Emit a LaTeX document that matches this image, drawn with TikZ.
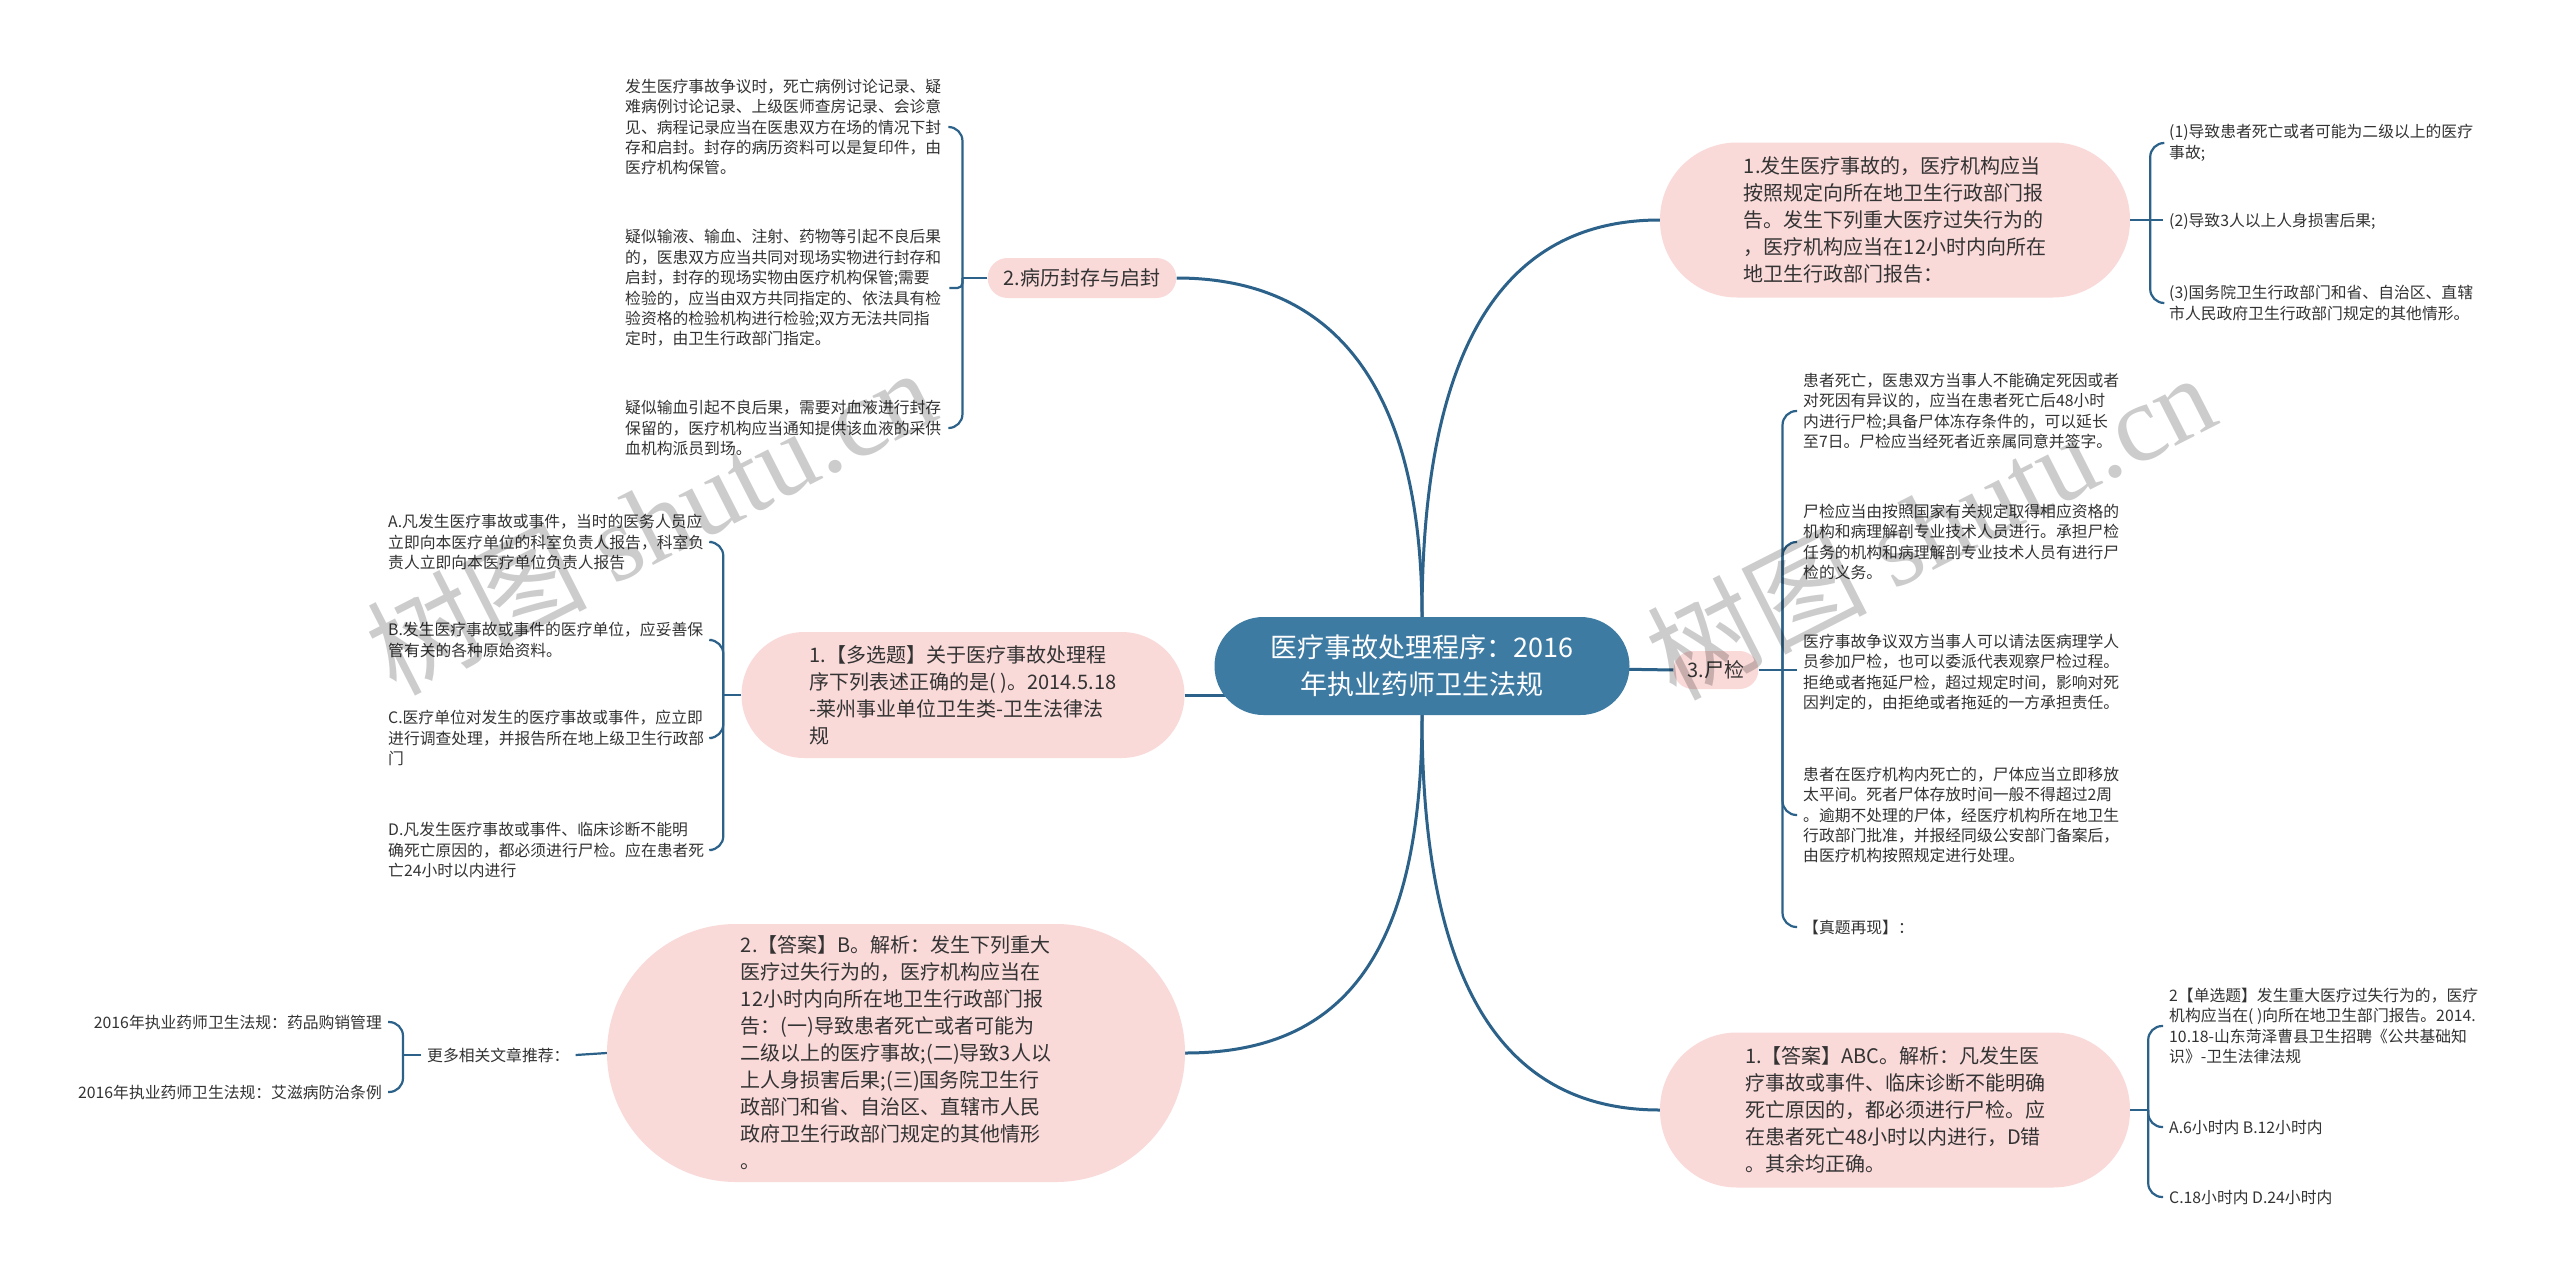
\documentclass[tikz,border=0pt]{standalone}
\usepackage{fontspec}
\setmainfont{Noto Sans CJK SC}
\newfontfamily\wmserif{Liberation Serif}
\usetikzlibrary{backgrounds}
\definecolor{rootblue}{RGB}{62,123,163}
\definecolor{linkblue}{RGB}{44,98,138}
\definecolor{topicpink}{RGB}{250,217,217}
\definecolor{inkgray}{RGB}{51,51,51}

\begin{document}
\begin{tikzpicture}[x=1pt,y=-1pt]
			\tikzstyle{root}=[fill=rootblue, text=white, align=center, minimum width=415pt, minimum height=98pt, rounded corners=49pt, font=\fontsize{27}{37}\selectfont]
			\tikzstyle{topic}=[fill=topicpink, text=inkgray, align=left, inner sep=0pt, font=\fontsize{20}{27}\selectfont]
			\tikzstyle{leaf}=[text=inkgray, align=left, inner xsep=6pt, inner ysep=0pt, font=\fontsize{15.8}{20.4}\selectfont]
			\tikzstyle{link}=[draw=linkblue, line width=3pt]
			\tikzstyle{brace}=[draw=linkblue, line width=2.2pt, rounded corners=14pt]

			\useasboundingbox (0,0) rectangle (2560,1282);

			\node (root) at (1422,666) [root] {医疗事故处理程序：2016\\年执业药师卫生法规};

			% right side
			\node (tr) at (1895,220) [topic, minimum width=470pt, minimum height=155pt, rounded corners=77pt] {1.发生医疗事故的，医疗机构应当\\按照规定向所在地卫生行政部门报\\告。发生下列重大医疗过失行为的\\，医疗机构应当在12小时内向所在\\地卫生行政部门报告：};
			\node (ins) at (1716,670) [topic, inner xsep=14pt, minimum height=38pt, rounded corners=19pt] {3.尸检};
			\node (br) at (1895,1110) [topic, minimum width=470pt, minimum height=155pt, rounded corners=77pt] {1.【答案】ABC。解析：凡发生医\\疗事故或事件、临床诊断不能明确\\死亡原因的，都必须进行尸检。应\\在患者死亡48小时以内进行，D错\\。其余均正确。};

			\node (tr1) at (2163,143) [leaf, anchor=west] {(1)导致患者死亡或者可能为二级以上的医疗\\事故;};
			\node (tr2) at (2163,221) [leaf, anchor=west] {(2)导致3人以上人身损害后果;};
			\node (tr3) at (2163,303) [leaf, anchor=west] {(3)国务院卫生行政部门和省、自治区、直辖\\市人民政府卫生行政部门规定的其他情形。};

			\node (ins1) at (1797,411) [leaf, anchor=west] {患者死亡，医患双方当事人不能确定死因或者\\对死因有异议的，应当在患者死亡后48小时\\内进行尸检;具备尸体冻存条件的，可以延长\\至7日。尸检应当经死者近亲属同意并签字。};
			\node (ins2) at (1797,542) [leaf, anchor=west] {尸检应当由按照国家有关规定取得相应资格的\\机构和病理解剖专业技术人员进行。承担尸检\\任务的机构和病理解剖专业技术人员有进行尸\\检的义务。};
			\node (ins3) at (1797,672) [leaf, anchor=west] {医疗事故争议双方当事人可以请法医病理学人\\员参加尸检，也可以委派代表观察尸检过程。\\拒绝或者拖延尸检，超过规定时间，影响对死\\因判定的，由拒绝或者拖延的一方承担责任。};
			\node (ins4) at (1797,815) [leaf, anchor=west] {患者在医疗机构内死亡的，尸体应当立即移放\\太平间。死者尸体存放时间一般不得超过2周\\。逾期不处理的尸体，经医疗机构所在地卫生\\行政部门批准，并报经同级公安部门备案后，\\由医疗机构按照规定进行处理。};
			\node (ins5) at (1797,927) [leaf, anchor=west] {【真题再现】：};

			\node (br1) at (2163,1026) [leaf, anchor=west] {2【单选题】发生重大医疗过失行为的，医疗\\机构应当在( )向所在地卫生部门报告。2014.\\10.18-山东菏泽曹县卫生招聘《公共基础知\\识》-卫生法律法规};
			\node (br2) at (2163,1127) [leaf, anchor=west] {A.6小时内 B.12小时内};
			\node (br3) at (2163,1197) [leaf, anchor=west] {C.18小时内 D.24小时内};

			% left side
			\node (l1) at (1082,278) [topic, inner xsep=16pt, minimum height=40pt, rounded corners=20pt] {2.病历封存与启封};
			\node (l2) at (963,695) [topic, minimum width=443pt, minimum height=126pt, rounded corners=63pt] {1.【多选题】关于医疗事故处理程\\序下列表述正确的是( )。2014.5.18\\-莱州事业单位卫生类-卫生法律法\\规};
			\node (l3) at (896,1053) [topic, minimum width=578pt, minimum height=258pt, rounded corners=129pt] {2.【答案】B。解析：发生下列重大\\医疗过失行为的，医疗机构应当在\\12小时内向所在地卫生行政部门报\\告：(一)导致患者死亡或者可能为\\二级以上的医疗事故;(二)导致3人以\\上人身损害后果;(三)国务院卫生行\\政部门和省、自治区、直辖市人民\\政府卫生行政部门规定的其他情形\\。};

			\node (c1) at (619,127) [leaf, anchor=west, text width=318pt] {发生医疗事故争议时，死亡病例讨论记录、疑\\难病例讨论记录、上级医师查房记录、会诊意\\见、病程记录应当在医患双方在场的情况下封\\存和启封。封存的病历资料可以是复印件，由\\医疗机构保管。};
			\node (c2) at (619,288) [leaf, anchor=west, text width=318pt] {疑似输液、输血、注射、药物等引起不良后果\\的，医患双方应当共同对现场实物进行封存和\\启封，封存的现场实物由医疗机构保管;需要\\检验的，应当由双方共同指定的、依法具有检\\验资格的检验机构进行检验;双方无法共同指\\定时，由卫生行政部门指定。};
			\node (c3) at (619,428) [leaf, anchor=west, text width=318pt] {疑似输血引起不良后果，需要对血液进行封存\\保留的，医疗机构应当通知提供该血液的采供\\血机构派员到场。};

			\node (d1) at (382,542) [leaf, anchor=west, text width=318pt] {A.凡发生医疗事故或事件，当时的医务人员应\\立即向本医疗单位的科室负责人报告，科室负\\责人立即向本医疗单位负责人报告};
			\node (d2) at (382,640) [leaf, anchor=west, text width=318pt] {B.发生医疗事故或事件的医疗单位，应妥善保\\管有关的各种原始资料。};
			\node (d3) at (382,738) [leaf, anchor=west, text width=318pt] {C.医疗单位对发生的医疗事故或事件，应立即\\进行调查处理，并报告所在地上级卫生行政部\\门};
			\node (d4) at (382,850) [leaf, anchor=west, text width=318pt] {D.凡发生医疗事故或事件、临床诊断不能明\\确死亡原因的，都必须进行尸检。应在患者死\\亡24小时以内进行};

			\node (e0) at (421,1055) [leaf, anchor=west] {更多相关文章推荐：};
			\node (f1) at (388,1022) [leaf, anchor=east, align=right] {2016年执业药师卫生法规：药品购销管理};
			\node (f2) at (388,1092) [leaf, anchor=east, align=right] {2016年执业药师卫生法规：艾滋病防治条例};

			\coordinate (trj) at ([xshift=20pt]tr.east);
			\coordinate (insj) at ([xshift=24pt]ins.east);
			\coordinate (brj) at ([xshift=18pt]br.east);
			\coordinate (l1j) at ([xshift=-25pt]l1.west);
			\coordinate (l2j) at ([xshift=-18pt]l2.west);
			\coordinate (e0j) at ([xshift=-18pt]e0.west);

			\begin{pgfonlayer}{background}
				\fill [white] (0,0) rectangle (2560,1282);
				\draw [link] (root.north) .. controls +(0,-280) and +(-150,0) .. (tr.west);
				\draw [link] (root.north) .. controls +(0,-240) and +(150,0) .. (l1.east);
				\draw [link] (root.south) .. controls +(0,250) and +(150,0) .. (l3.east);
				\draw [link] (root.south) .. controls +(0,280) and +(-150,0) .. (br.west);
				\draw [link] (root.center) -- (ins.west);
				\draw [link] (l2.east) -- (l2.east -| root.center);
			\end{pgfonlayer}

			\draw [brace] (tr.east) -- (trj);
			\draw [brace] (trj) |- (tr1.west);
			\draw [brace] (trj) -- (trj -| tr2.west);
			\draw [brace] (trj) |- (tr3.west);

			\draw [brace] (ins.east) -- (insj);
			\draw [brace] (insj) |- (ins1.west);
			\draw [brace] (insj) |- (ins2.west);
			\draw [brace] (insj) -- (insj -| ins3.west);
			\draw [brace] (insj) |- (ins4.west);
			\draw [brace] (insj) |- (ins5.west);

			\draw [brace] (br.east) -- (brj);
			\draw [brace] (brj) |- (br1.west);
			\draw [brace] (brj) |- (br2.west);
			\draw [brace] (brj) |- (br3.west);

			\draw [brace] (l1.west) -- (l1j);
			\draw [brace] (l1j) |- (c1.east);
			\draw [brace, rounded corners=5pt] (l1j) |- (c2.east);
			\draw [brace] (l1j) |- (c3.east);

			\draw [brace] (l2.west) -- (l2j);
			\draw [brace] (l2j) |- (d1.east);
			\draw [brace] (l2j) |- (d2.east);
			\draw [brace] (l2j) |- (d3.east);
			\draw [brace] (l2j) |- (d4.east);

			\draw [brace] (l3.west) -- (e0.east);
			\draw [brace] (e0.west) -- (e0j);
			\draw [brace] (e0j) |- (f1.east);
			\draw [brace] (e0j) |- (f2.east);

			% watermark
			\node (wm1) at (650,520) [rotate=27, text=black, opacity=0.2, font=\fontsize{110}{110}\selectfont] {树图 {\wmserif shutu.cn}};
			\node (wm2) at (1930,525) [rotate=27, text=black, opacity=0.2, font=\fontsize{110}{110}\selectfont] {树图 {\wmserif shutu.cn}};
		\end{tikzpicture}
\end{document}
